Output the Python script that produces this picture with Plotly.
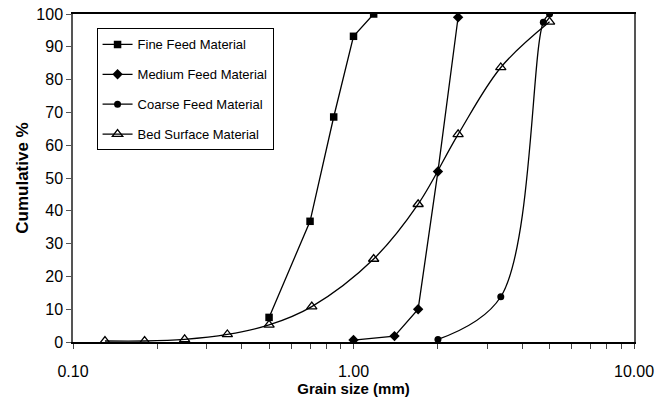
import plotly.graph_objects as go

# Grain size distributions (grain size in mm, cumulative % finer)
fine_size = [0.50, 0.70, 0.85, 1.00, 1.18]
fine_pct = [7.5, 36.8, 68.6, 93.2, 100.0]

medium_size = [1.00, 1.40, 1.70, 2.00, 2.36]
medium_pct = [0.6, 1.8, 10.0, 52.0, 99.0]

coarse_size = [2.00, 3.35, 4.75, 5.00]
coarse_pct = [0.8, 13.8, 97.5, 100.0]

bed_size = [0.13, 0.18, 0.25, 0.355, 0.50, 0.71, 1.18, 1.70, 2.36, 3.35, 5.00]
bed_pct = [0.3, 0.3, 0.8, 2.3, 5.2, 10.8, 25.3, 42.0, 63.3, 83.7, 97.6]

x_tick_vals = [0.1, 1.0, 10.0]
x_tick_text = ["0.10", "1.00", "10.00"]
x_minor_vals = [0.2, 0.3, 0.4, 0.5, 0.6, 0.7, 0.8, 0.9,
                2, 3, 4, 5, 6, 7, 8, 9]
y_tick_vals = list(range(0, 101, 10))

FONT = "Liberation Sans, Arial, sans-serif"
LINE = dict(color="black", width=1.3)

fig = go.Figure()
fig.add_trace(go.Scatter(
    x=fine_size, y=fine_pct, name="Fine Feed Material", legendgroup="a",
    mode="lines+markers", line=LINE,
    marker=dict(symbol="square", size=7.5, color="black")))
fig.add_trace(go.Scatter(
    x=medium_size, y=medium_pct, name="Medium Feed Material", legendgroup="b",
    mode="lines+markers", line=LINE,
    marker=dict(symbol="diamond", size=8, color="black")))
fig.add_trace(go.Scatter(
    x=coarse_size, y=coarse_pct, name="Coarse Feed Material", legendgroup="c",
    mode="lines+markers", line=dict(LINE, shape="spline", smoothing=1.0),
    marker=dict(symbol="circle", size=7, color="black")))
fig.add_trace(go.Scatter(
    x=bed_size, y=bed_pct, name="Bed Surface Material", legendgroup="d",
    mode="lines+markers", line=dict(LINE, shape="spline", smoothing=1.0),
    marker=dict(symbol="triangle-up-open", size=9, color="black",
                line=dict(width=1.3, color="black"))))

fig.update_layout(
    width=668, height=402,
    margin=dict(l=73, r=34, t=14, b=60),
    paper_bgcolor="white", plot_bgcolor="white",
    font=dict(family=FONT, color="black"),
    legend=dict(
        x=0.042, y=0.956, xanchor="left", yanchor="top",
        bgcolor="white", bordercolor="black", borderwidth=1,
        font=dict(size=13, family=FONT), traceorder="grouped",
        tracegroupgap=10, itemwidth=30),
    xaxis=dict(
        type="log", range=[-1, 1], automargin=False,
        tickvals=x_tick_vals, ticktext=x_tick_text,
        ticks="outside", ticklen=5, tickcolor="#444",
        minor=dict(tickvals=x_minor_vals, ticks="outside", ticklen=5,
                   tickcolor="#444"),
        tickfont=dict(size=16), ticklabelstandoff=9,
        showgrid=False, zeroline=False,
        showline=True, linecolor="black", linewidth=2, mirror=True,
        title=dict(text="<b>Grain size (mm)</b>", font=dict(size=15),
                   standoff=4)),
    yaxis=dict(
        range=[0, 100], tickvals=y_tick_vals, automargin=False,
        ticks="outside", ticklen=5, tickcolor="#555",
        tickfont=dict(size=16),
        showgrid=False, zeroline=False,
        showline=True, linecolor="#555", linewidth=1.5, mirror=True,
        title=dict(text="<b>Cumulative %</b>", font=dict(size=17),
                   standoff=3)),
)

fig.write_html("out.html")
